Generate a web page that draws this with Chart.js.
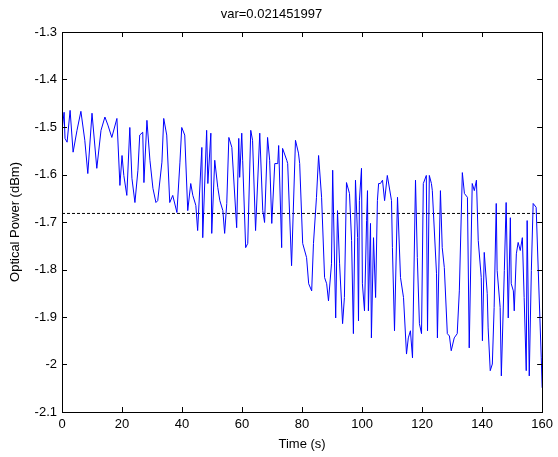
<!DOCTYPE html>
<html>
<head>
<meta charset="utf-8">
<script src="https://cdn.jsdelivr.net/npm/chart.js@4.4.1/dist/chart.umd.min.js"></script>
<style>
  html, body { margin: 0; padding: 0; background: #fff; }
  #wrap { width: 558px; height: 457px; }
</style>
</head>
<body>
<div id="wrap"><canvas id="c" width="558" height="457"></canvas></div>
<script>
// time (s) and optical power (dBm)
const times = [
  0, 0.7, 1.0, 1.7, 2.7, 3.7, 5.0, 6.3, 7.6, 8.6, 10.0, 11.6, 13.0, 14.3, 15.3, 16.6, 18.3, 19.3,
  20.0, 20.6, 21.6, 22.6, 23.3, 24.3, 25.3, 25.9, 26.9, 27.3, 28.3, 29.3, 30.3, 31.3, 31.9, 33.3, 33.9, 34.9, 35.9, 36.9, 38.3, 39.3,
  39.9, 40.9, 41.9, 42.9, 43.6, 44.6, 45.2, 46.6, 46.9, 48.2, 48.6, 49.6, 49.9, 50.9, 51.9, 52.6, 53.6, 54.2, 54.9, 55.6, 56.6, 58.2, 58.9,
  59.2, 59.9, 60.2, 61.2, 61.9, 62.9, 63.5, 64.5, 65.9, 66.9, 67.5, 68.5, 69.2, 69.9, 70.9, 71.9, 72.2, 73.2, 73.5, 74.9, 75.2, 76.5, 77.8, 78.8,
  79.2, 80.2, 81.5, 82.2, 83.2, 83.8, 84.8, 85.5, 86.5, 87.5, 88.2, 88.8, 89.8, 90.2, 91.2, 91.8, 92.5, 93.5, 94.1, 94.8, 95.8, 96.5, 97.1, 97.8, 98.5,
  98.8, 99.1, 99.8, 100.1, 100.8, 101.5, 101.8, 102.1, 102.8, 103.1, 103.8, 104.5, 105.1, 105.5, 106.1, 106.8, 107.5, 108.4, 109.8, 110.1, 110.8,
  111.8, 112.8, 113.8, 114.8, 115.4, 116.1, 116.8, 117.8,
  118.4, 119.1, 119.8, 120.4, 121.4, 121.8, 122.4, 123.1, 123.4, 124.8, 125.1, 126.1, 126.7, 127.4, 128.4, 129.1, 129.7, 130.7, 131.7, 132.4,
  133.4, 134.1, 135.1, 135.7, 136.7, 137.4, 138.1, 138.7,
  139.7, 140.1, 140.7, 141.7, 142.0, 142.7, 143.4, 144.0, 144.7, 145.0, 146.0, 146.4, 147.4, 148.0, 148.7, 149.4, 149.7, 150.4, 150.7,
  151.4, 152.0, 152.7, 153.4, 154.0, 154.7, 155.0, 155.7, 156.4, 157.0, 158.0, 158.7, 159.7, 160.0
];
const power = [
  -1.507, -1.469, -1.524, -1.532, -1.465, -1.553, -1.507, -1.467, -1.528, -1.598, -1.471, -1.587, -1.507, -1.479, -1.496, -1.522, -1.482, -1.623,
  -1.560, -1.602, -1.644, -1.501, -1.608, -1.659, -1.591, -1.517, -1.511, -1.617, -1.486, -1.570, -1.629, -1.659, -1.655, -1.574, -1.482, -1.517, -1.659, -1.644, -1.680, -1.574,
  -1.501, -1.517, -1.676, -1.619, -1.644, -1.665, -1.718, -1.543, -1.733, -1.507, -1.619, -1.513, -1.724, -1.570, -1.627, -1.655, -1.676, -1.724, -1.661, -1.522, -1.543, -1.712, -1.524,
  -1.606, -1.513, -1.570, -1.754, -1.745, -1.507, -1.528, -1.718, -1.513, -1.676, -1.701, -1.522, -1.570, -1.703, -1.577, -1.577, -1.539, -1.754, -1.545, -1.570, -1.577, -1.792, -1.528, -1.555,
  -1.577, -1.745, -1.775, -1.830, -1.845, -1.745, -1.648, -1.560, -1.648, -1.817, -1.830, -1.866, -1.788, -1.591, -1.902, -1.676, -1.788, -1.914, -1.859, -1.617, -1.640, -1.739, -1.935, -1.612, -1.733,
  -1.908, -1.655, -1.587, -1.830, -1.887, -1.697, -1.634, -1.887, -1.703, -1.944, -1.733, -1.859, -1.655, -1.619, -1.619, -1.612, -1.655, -1.602, -1.655, -1.754, -1.929,
  -1.648, -1.817, -1.859, -1.978, -1.944, -1.929, -1.986, -1.612,
  -1.775, -1.914, -1.935, -1.619, -1.602, -1.929, -1.602, -1.619, -1.634, -1.809, -1.944, -1.634, -1.754, -1.796, -1.935, -1.940, -1.971, -1.944, -1.935, -1.845,
  -1.596, -1.640, -1.648, -1.965, -1.619, -1.634, -1.612, -1.739,
  -1.817, -1.950, -1.764, -1.851, -1.923, -2.013, -1.999, -1.880, -1.661, -1.802, -1.880, -2.024, -1.802, -1.659, -1.902, -1.691, -1.830, -1.845, -1.887,
  -1.767, -1.743, -1.760, -1.733, -1.859, -2.013, -1.697, -2.024, -1.802, -1.661, -1.669, -1.802, -1.986, -2.049
];
const meanLevel = -1.682;
const xTicks = [0, 20, 40, 60, 80, 100, 120, 140, 160];
const yTicks = [-2.1, -2.0, -1.9, -1.8, -1.7, -1.6, -1.5, -1.4, -1.3];
const titleText = 'var=0.021451997';

const FONT = "'Liberation Sans', Arial, sans-serif";
Chart.defaults.font.family = FONT;
Chart.defaults.font.size = 13;
Chart.defaults.color = '#000';

const series = times.map((t, i) => ({ x: t, y: power[i] }));

// MATLAB style box with inward ticks on all four sides
const boxTicks = {
  id: 'boxTicks',
  afterDatasetsDraw(chart) {
    const ctx = chart.ctx;
    const a = chart.chartArea;
    const xs = chart.scales.x, ys = chart.scales.y;
    const len = 5;
    ctx.save();
    ctx.strokeStyle = '#000';
    ctx.lineWidth = 1;
    ctx.beginPath();
    xTicks.forEach(v => {
      const px = Math.round(xs.getPixelForValue(v)) + 0.5;
      ctx.moveTo(px, a.bottom); ctx.lineTo(px, a.bottom - len);
      ctx.moveTo(px, a.top); ctx.lineTo(px, a.top + len);
    });
    yTicks.forEach(v => {
      const py = Math.round(ys.getPixelForValue(v)) + 0.5;
      ctx.moveTo(a.left, py); ctx.lineTo(a.left + len, py);
      ctx.moveTo(a.right, py); ctx.lineTo(a.right - len, py);
    });
    ctx.stroke();
    ctx.strokeRect(Math.round(a.left) + 0.5, Math.round(a.top) + 0.5,
      Math.round(a.right - a.left), Math.round(a.bottom - a.top));
    ctx.restore();
  }
};

new Chart(document.getElementById('c'), {
  type: 'line',
  data: {
    datasets: [
      {
        data: series,
        borderColor: '#0000ff',
        borderWidth: 1,
        pointRadius: 0,
        tension: 0
      },
      {
        data: [{ x: xTicks[0], y: meanLevel }, { x: xTicks[xTicks.length - 1], y: meanLevel }],
        borderColor: '#000',
        borderWidth: 1,
        borderDash: [3, 2],
        pointRadius: 0
      }
    ]
  },
  options: {
    responsive: false,
    animation: false,
    layout: { padding: { left: 0, right: 15, top: 0, bottom: 0 } },
    plugins: {
      legend: { display: false },
      tooltip: { enabled: false },
      title: {
        display: true,
        text: titleText,
        color: '#000',
        font: { size: 13, weight: 'normal' },
        padding: { top: 7, bottom: 9.4 }
      }
    },
    scales: {
      x: {
        type: 'linear',
        min: 0,
        max: 160,
        grid: { display: false, drawTicks: false },
        border: { display: false },
        afterBuildTicks(s) { s.ticks = xTicks.map(v => ({ value: v })); },
        afterFit(s) { s.height = 45; },
        ticks: { padding: 5, maxRotation: 0, callback: v => String(v) },
        title: { display: true, text: 'Time (s)', font: { size: 13 }, padding: { top: 0, bottom: 5 } }
      },
      y: {
        type: 'linear',
        min: -2.1,
        max: -1.3,
        grid: { display: false, drawTicks: false },
        border: { display: false },
        afterBuildTicks(s) { s.ticks = yTicks.map(v => ({ value: v })); },
        afterFit(s) { s.width = 62; },
        ticks: { padding: 5, callback: v => String(+v.toFixed(1)) },
        title: { display: true, text: 'Optical Power (dBm)', font: { size: 13 }, padding: { top: 8, bottom: 0 } }
      }
    }
  },
  plugins: [boxTicks]
});
</script>
</body>
</html>
